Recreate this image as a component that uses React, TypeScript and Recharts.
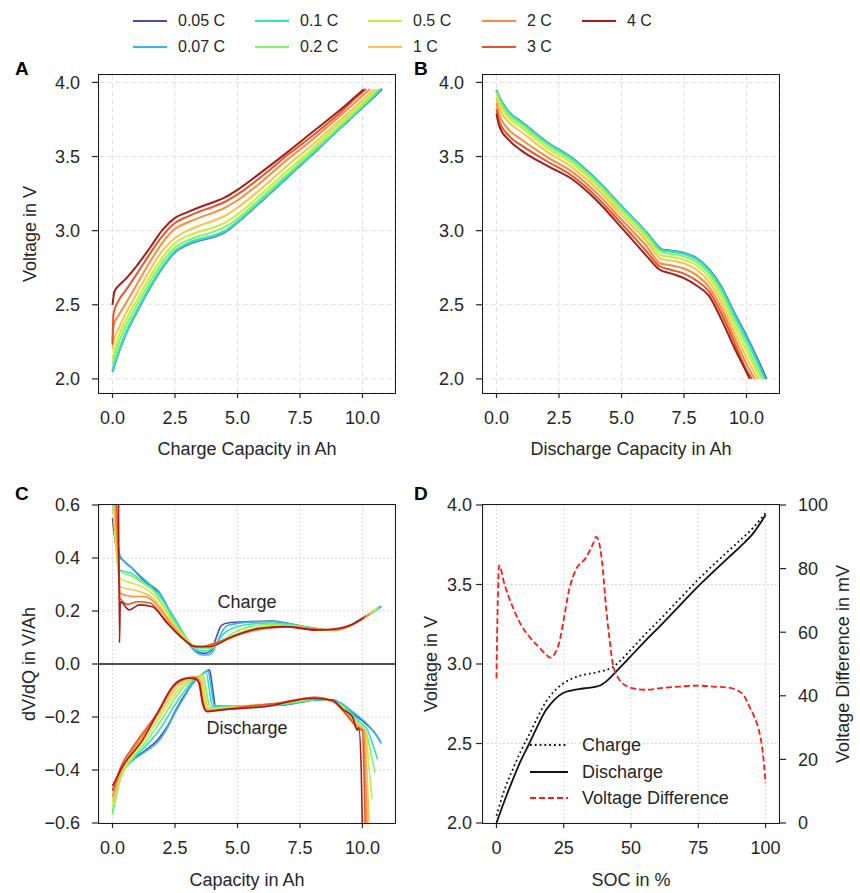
import { CartesianGrid, Line, LineChart, ReferenceLine, XAxis, YAxis } from 'recharts'
import type { ReactNode } from 'react'

type Pt = [number, number]

// C-rates shown in every panel, low to high
const RATES = ['0.05 C', '0.07 C', '0.1 C', '0.2 C', '0.5 C', '1 C', '2 C', '3 C', '4 C']
const RATE_COLORS = ['#4f4aa6', '#38b6ec', '#30e6b4', '#86f26a', '#c6ee3c', '#f8c44a', '#fa8c3c', '#e8552a', '#a51c1c']

const CAP_TICKS = [0, 2.5, 5, 7.5, 10]
const VOLT_TICKS = [2, 2.5, 3, 3.5, 4]
const DVDQ_TICKS = [-0.6, -0.4, -0.2, 0, 0.2, 0.4, 0.6]
const SOC_TICKS = [0, 25, 50, 75, 100]
const DIFF_TICKS = [0, 20, 40, 60, 80, 100]

// A: charge voltage vs charge capacity (Ah, V)
const chgV_005: Pt[] = [[0, 2.05], [0.25, 2.18], [0.5, 2.29], [1, 2.46], [1.5, 2.615], [2, 2.75], [2.5, 2.855], [3, 2.905], [3.5, 2.935], [4, 2.955], [4.5, 2.99], [5, 3.055], [6, 3.205], [7, 3.36], [8, 3.515], [9, 3.675], [10, 3.83], [10.78, 3.955]]
const chgV_007: Pt[] = [[0, 2.052], [0.25, 2.183], [0.5, 2.293], [1, 2.463], [1.5, 2.618], [2, 2.753], [2.5, 2.858], [3, 2.908], [3.5, 2.938], [4, 2.958], [4.5, 2.993], [5, 3.058], [6, 3.208], [7, 3.363], [8, 3.518], [9, 3.677], [10, 3.832], [10.75, 3.955]]
const chgV_01: Pt[] = [[0, 2.06], [0.25, 2.19], [0.5, 2.3], [1, 2.47], [1.5, 2.625], [2, 2.76], [2.5, 2.865], [3, 2.915], [3.5, 2.945], [4, 2.965], [4.5, 3.0], [5, 3.062], [6, 3.212], [7, 3.367], [8, 3.52], [9, 3.68], [10, 3.835], [10.72, 3.955]]
const chgV_02: Pt[] = [[0, 2.1], [0.25, 2.24], [0.5, 2.345], [1, 2.505], [1.5, 2.655], [2, 2.79], [2.5, 2.887], [3, 2.935], [3.5, 2.965], [4, 2.99], [4.5, 3.025], [5, 3.08], [6, 3.23], [7, 3.383], [8, 3.535], [9, 3.69], [10, 3.845], [10.65, 3.955]]
const chgV_05: Pt[] = [[0, 2.14], [0.25, 2.29], [0.5, 2.385], [1, 2.54], [1.5, 2.69], [2, 2.82], [2.5, 2.917], [3, 2.965], [3.5, 2.995], [4, 3.02], [4.5, 3.055], [5, 3.11], [6, 3.255], [7, 3.405], [8, 3.555], [9, 3.71], [10, 3.86], [10.55, 3.955]]
const chgV_1: Pt[] = [[0, 2.2], [0.04, 2.25], [0.25, 2.34], [0.5, 2.43], [1, 2.585], [1.5, 2.735], [2, 2.865], [2.5, 2.95], [3, 3.0], [3.5, 3.035], [4, 3.065], [4.5, 3.1], [5, 3.155], [6, 3.29], [7, 3.44], [8, 3.58], [9, 3.73], [10, 3.88], [10.45, 3.955]]
const chgV_2: Pt[] = [[0, 2.25], [0.04, 2.36], [0.25, 2.43], [0.5, 2.5], [1, 2.645], [1.5, 2.79], [2, 2.92], [2.5, 3.013], [3, 3.055], [3.5, 3.09], [4, 3.12], [4.5, 3.155], [5, 3.205], [6, 3.335], [7, 3.48], [8, 3.615], [9, 3.76], [10, 3.91], [10.3, 3.955]]
const chgV_3: Pt[] = [[0, 2.23], [0.04, 2.44], [0.25, 2.53], [0.5, 2.59], [1, 2.715], [1.5, 2.845], [2, 2.965], [2.5, 3.052], [3, 3.095], [3.5, 3.13], [4, 3.16], [4.5, 3.195], [5, 3.245], [6, 3.37], [7, 3.51], [8, 3.64], [9, 3.78], [10, 3.935], [10.15, 3.955]]
const chgV_4: Pt[] = [[0, 2.5], [0.08, 2.59], [0.25, 2.63], [0.5, 2.67], [1, 2.77], [1.5, 2.885], [2, 3.005], [2.5, 3.086], [3, 3.125], [3.5, 3.16], [4, 3.19], [4.5, 3.225], [5, 3.275], [6, 3.4], [7, 3.53], [8, 3.665], [9, 3.8], [10.05, 3.955]]

// B: discharge voltage vs discharge capacity (Ah, V)
const disV_005: Pt[] = [[0, 3.95], [0.1, 3.905], [0.5, 3.8], [1, 3.735], [2, 3.6], [3, 3.493], [4, 3.345], [5, 3.165], [6, 2.99], [6.65, 2.872], [7, 2.865], [7.5, 2.85], [8, 2.815], [8.5, 2.74], [9, 2.62], [9.5, 2.45], [10, 2.29], [10.4, 2.15], [10.8, 2.0]]
const disV_007: Pt[] = [[0, 3.948], [0.1, 3.903], [0.5, 3.798], [1, 3.733], [2, 3.598], [3, 3.491], [4, 3.343], [5, 3.163], [6, 2.988], [6.64, 2.87], [7, 2.863], [7.5, 2.848], [8, 2.813], [8.5, 2.737], [9, 2.616], [9.5, 2.445], [10, 2.283], [10.4, 2.14], [10.76, 2.0]]
const disV_01: Pt[] = [[0, 3.945], [0.1, 3.9], [0.5, 3.795], [1, 3.73], [2, 3.595], [3, 3.488], [4, 3.34], [5, 3.16], [6, 2.985], [6.63, 2.866], [7, 2.858], [7.5, 2.842], [8, 2.806], [8.5, 2.728], [9, 2.605], [9.5, 2.43], [10, 2.265], [10.4, 2.12], [10.72, 2.0]]
const disV_02: Pt[] = [[0, 3.935], [0.1, 3.885], [0.5, 3.78], [1, 3.715], [2, 3.58], [3, 3.474], [4, 3.327], [5, 3.147], [6, 2.972], [6.62, 2.852], [7, 2.843], [7.5, 2.826], [8, 2.788], [8.5, 2.71], [9, 2.58], [9.5, 2.4], [10, 2.23], [10.4, 2.08], [10.65, 2.0]]
const disV_05: Pt[] = [[0, 3.92], [0.1, 3.865], [0.5, 3.76], [1, 3.695], [2, 3.56], [3, 3.455], [4, 3.308], [5, 3.128], [6, 2.953], [6.6, 2.832], [7, 2.823], [7.5, 2.805], [8, 2.765], [8.5, 2.685], [9, 2.55], [9.5, 2.365], [10, 2.19], [10.4, 2.052], [10.55, 2.0]]
const disV_1: Pt[] = [[0, 3.895], [0.1, 3.835], [0.5, 3.73], [1, 3.665], [2, 3.535], [3, 3.43], [4, 3.285], [5, 3.105], [6, 2.93], [6.58, 2.81], [7, 2.798], [7.5, 2.78], [8, 2.738], [8.5, 2.655], [9, 2.515], [9.5, 2.325], [10, 2.145], [10.45, 2.0]]
const disV_2: Pt[] = [[0, 3.86], [0.1, 3.79], [0.5, 3.68], [1, 3.615], [2, 3.5], [3, 3.4], [4, 3.255], [5, 3.075], [6, 2.895], [6.55, 2.78], [7, 2.765], [7.5, 2.745], [8, 2.7], [8.5, 2.62], [9, 2.475], [9.5, 2.285], [10, 2.1], [10.33, 2.0]]
const disV_3: Pt[] = [[0, 3.82], [0.1, 3.745], [0.5, 3.64], [1, 3.575], [2, 3.47], [3, 3.372], [4, 3.228], [5, 3.047], [6, 2.86], [6.52, 2.76], [7, 2.735], [7.5, 2.71], [8, 2.663], [8.5, 2.59], [9, 2.44], [9.5, 2.25], [10, 2.06], [10.22, 2.0]]
const disV_4: Pt[] = [[0, 3.79], [0.1, 3.71], [0.5, 3.61], [1, 3.54], [2, 3.44], [3, 3.35], [4, 3.205], [5, 3.02], [6, 2.83], [6.5, 2.74], [7, 2.71], [7.5, 2.68], [8, 2.63], [8.5, 2.56], [9, 2.4], [9.5, 2.215], [10, 2.045], [10.13, 2.0]]

// C: differential voltage dV/dQ during charge (Ah, V/Ah)
const chgD_005: Pt[] = [[0, 0.55], [0.1, 0.47], [0.25, 0.41], [0.5, 0.385], [0.8, 0.36], [1.2, 0.32], [1.6, 0.29], [1.9, 0.265], [2.2, 0.215], [2.5, 0.16], [2.8, 0.115], [3.1, 0.07], [3.4, 0.045], [3.7, 0.04], [3.95, 0.05], [4.15, 0.1], [4.35, 0.145], [4.6, 0.155], [5.5, 0.16], [6.4, 0.162], [7.2, 0.15], [8, 0.135], [8.8, 0.128], [9.4, 0.14], [10, 0.17], [10.4, 0.195], [10.75, 0.218]]
const chgD_007: Pt[] = [[0, 0.64], [0.15, 0.5], [0.3, 0.41], [0.6, 0.375], [0.8, 0.36], [1.2, 0.325], [1.5, 0.3], [1.86, 0.273], [2.1, 0.23], [2.4, 0.185], [2.8, 0.122], [3.19, 0.06], [3.4, 0.04], [3.6, 0.034], [3.85, 0.035], [4.0, 0.045], [4.2, 0.085], [4.4, 0.125], [4.6, 0.145], [5.46, 0.158], [6.4, 0.16], [7.2, 0.15], [7.72, 0.141], [8.79, 0.128], [9.4, 0.14], [9.72, 0.158], [10.2, 0.185], [10.72, 0.218]]
const chgD_01: Pt[] = [[0, 0.62], [0.15, 0.45], [0.3, 0.355], [0.8, 0.34], [1.2, 0.31], [1.6, 0.285], [2.0, 0.24], [2.4, 0.18], [2.8, 0.12], [3.2, 0.07], [3.5, 0.05], [3.8, 0.05], [4.1, 0.07], [4.4, 0.11], [4.8, 0.135], [5.5, 0.15], [6.4, 0.155], [7.2, 0.148], [8, 0.135], [8.8, 0.128], [9.4, 0.14], [10, 0.17], [10.7, 0.215]]
const chgD_02: Pt[] = [[0, 0.64], [0.15, 0.45], [0.3, 0.35], [0.8, 0.33], [1.2, 0.305], [1.6, 0.28], [2.0, 0.225], [2.4, 0.17], [2.8, 0.115], [3.2, 0.07], [3.5, 0.06], [3.9, 0.06], [4.3, 0.08], [4.8, 0.115], [5.5, 0.14], [6.4, 0.15], [7.2, 0.145], [8, 0.135], [8.8, 0.128], [9.4, 0.14], [10, 0.17], [10.62, 0.212]]
const chgD_05: Pt[] = [[0, 0.64], [0.15, 0.42], [0.3, 0.323], [0.8, 0.305], [1.2, 0.29], [1.6, 0.265], [2.0, 0.22], [2.4, 0.16], [2.8, 0.11], [3.2, 0.072], [3.6, 0.065], [4.0, 0.07], [4.5, 0.09], [5.0, 0.115], [5.7, 0.135], [6.5, 0.145], [7.3, 0.142], [8, 0.135], [8.8, 0.128], [9.4, 0.14], [10, 0.17], [10.55, 0.208]]
const chgD_1: Pt[] = [[0.02, 0.64], [0.2, 0.4], [0.3, 0.292], [0.8, 0.28], [1.2, 0.27], [1.6, 0.25], [2.0, 0.205], [2.4, 0.15], [2.8, 0.105], [3.2, 0.072], [3.6, 0.066], [4.0, 0.072], [4.6, 0.092], [5.2, 0.115], [5.9, 0.132], [6.7, 0.142], [7.4, 0.14], [8, 0.134], [8.8, 0.128], [9.4, 0.14], [10, 0.17], [10.45, 0.202]]
const chgD_2: Pt[] = [[0.1, 0.64], [0.22, 0.4], [0.3, 0.267], [0.8, 0.255], [1.2, 0.255], [1.6, 0.24], [2.0, 0.195], [2.4, 0.145], [2.8, 0.1], [3.2, 0.07], [3.6, 0.066], [4.0, 0.075], [4.7, 0.1], [5.4, 0.12], [6.1, 0.133], [6.9, 0.14], [7.6, 0.138], [8.2, 0.131], [8.8, 0.128], [9.4, 0.14], [10, 0.17], [10.3, 0.19]]
const chgD_3: Pt[] = [[0.15, 0.64], [0.25, 0.4], [0.3, 0.248], [0.6, 0.225], [1.0, 0.235], [1.5, 0.23], [2.0, 0.18], [2.4, 0.135], [2.8, 0.097], [3.2, 0.068], [3.6, 0.066], [4.0, 0.075], [4.7, 0.1], [5.5, 0.125], [6.3, 0.137], [7.0, 0.14], [7.7, 0.135], [8.3, 0.13], [8.9, 0.13], [9.5, 0.145], [10.15, 0.182]]
const chgD_4: Pt[] = [[0.24, 0.64], [0.28, 0.08], [0.31, 0.235], [0.67, 0.204], [1.07, 0.223], [1.6, 0.216], [2.13, 0.16], [2.8, 0.097], [3.33, 0.065], [3.86, 0.065], [4.79, 0.103], [5.86, 0.135], [6.92, 0.141], [8.12, 0.128], [9.05, 0.135], [9.6, 0.15], [10.05, 0.175]]

// C: differential voltage dV/dQ during discharge (Ah, V/Ah)
const disD_005: Pt[] = [[0, -0.475], [0.3, -0.415], [0.8, -0.362], [1.33, -0.325], [1.86, -0.28], [2.2, -0.235], [2.53, -0.174], [2.9, -0.115], [3.2, -0.073], [3.5, -0.045], [3.75, -0.028], [3.88, -0.022], [4.0, -0.09], [4.13, -0.161], [5.46, -0.161], [6.79, -0.155], [7.5, -0.145], [8.12, -0.136], [8.79, -0.136], [9.2, -0.152], [9.6, -0.185], [10.12, -0.224], [10.45, -0.255], [10.72, -0.293]]
const disD_007: Pt[] = [[0, -0.5], [0.3, -0.42], [0.8, -0.365], [1.33, -0.33], [1.86, -0.29], [2.2, -0.24], [2.53, -0.18], [2.9, -0.12], [3.2, -0.075], [3.5, -0.045], [3.7, -0.03], [3.82, -0.025], [3.95, -0.09], [4.08, -0.158], [5.46, -0.16], [6.79, -0.153], [7.5, -0.144], [8.12, -0.136], [8.79, -0.136], [9.2, -0.152], [9.6, -0.18], [10.12, -0.22], [10.45, -0.255], [10.76, -0.3]]
const disD_01: Pt[] = [[0, -0.56], [0.3, -0.43], [0.8, -0.36], [1.33, -0.31], [1.86, -0.25], [2.2, -0.2], [2.53, -0.15], [2.9, -0.1], [3.2, -0.065], [3.5, -0.045], [3.65, -0.035], [3.75, -0.032], [3.88, -0.1], [4.0, -0.16], [5.46, -0.16], [6.79, -0.153], [7.5, -0.143], [8.12, -0.135], [8.79, -0.137], [9.2, -0.155], [9.6, -0.19], [9.9, -0.22], [10.2, -0.25], [10.4, -0.3], [10.6, -0.36]]
const disD_02: Pt[] = [[0, -0.57], [0.3, -0.44], [0.8, -0.355], [1.33, -0.295], [1.86, -0.225], [2.2, -0.175], [2.53, -0.125], [2.9, -0.08], [3.2, -0.058], [3.5, -0.043], [3.62, -0.04], [3.75, -0.1], [3.9, -0.165], [5.46, -0.158], [6.79, -0.15], [7.5, -0.14], [8.12, -0.133], [8.79, -0.14], [9.2, -0.16], [9.6, -0.2], [9.9, -0.23], [10.15, -0.26], [10.3, -0.32], [10.5, -0.41]]
const disD_05: Pt[] = [[0, -0.54], [0.3, -0.43], [0.8, -0.345], [1.33, -0.28], [1.86, -0.205], [2.2, -0.155], [2.53, -0.11], [2.9, -0.07], [3.2, -0.055], [3.45, -0.045], [3.57, -0.045], [3.7, -0.11], [3.85, -0.17], [5.46, -0.157], [6.79, -0.148], [7.5, -0.137], [8.12, -0.13], [8.79, -0.14], [9.2, -0.165], [9.6, -0.205], [9.9, -0.235], [10.15, -0.27], [10.25, -0.38], [10.38, -0.51]]
const disD_1: Pt[] = [[0, -0.52], [0.3, -0.42], [0.8, -0.335], [1.33, -0.265], [1.86, -0.19], [2.2, -0.14], [2.53, -0.095], [2.9, -0.063], [3.2, -0.052], [3.4, -0.048], [3.52, -0.05], [3.65, -0.12], [3.8, -0.172], [5.46, -0.157], [6.79, -0.146], [7.5, -0.134], [8.12, -0.128], [8.79, -0.14], [9.2, -0.168], [9.6, -0.21], [9.9, -0.235], [10.1, -0.25], [10.2, -0.45], [10.28, -0.65]]
const disD_2: Pt[] = [[0, -0.5], [0.3, -0.41], [0.8, -0.325], [1.33, -0.255], [1.86, -0.18], [2.2, -0.125], [2.53, -0.08], [2.9, -0.057], [3.2, -0.05], [3.35, -0.05], [3.48, -0.06], [3.6, -0.13], [3.75, -0.175], [5.46, -0.158], [6.79, -0.145], [7.5, -0.132], [8.12, -0.127], [8.79, -0.14], [9.2, -0.17], [9.6, -0.215], [9.85, -0.24], [10.05, -0.25], [10.13, -0.45], [10.2, -0.65]]
const disD_3: Pt[] = [[0, -0.48], [0.3, -0.395], [0.8, -0.315], [1.33, -0.245], [1.86, -0.175], [2.2, -0.115], [2.53, -0.072], [2.9, -0.054], [3.2, -0.05], [3.35, -0.055], [3.45, -0.07], [3.6, -0.15], [3.75, -0.178], [5.46, -0.16], [6.79, -0.145], [7.5, -0.132], [8.12, -0.126], [8.79, -0.14], [9.2, -0.175], [9.6, -0.22], [9.8, -0.245], [10.0, -0.25], [10.07, -0.45], [10.12, -0.65]]
const disD_4: Pt[] = [[0, -0.46], [0.4, -0.387], [1.2, -0.287], [1.86, -0.174], [2.4, -0.086], [2.8, -0.058], [3.06, -0.054], [3.3, -0.056], [3.46, -0.07], [3.62, -0.15], [3.79, -0.18], [4.26, -0.174], [6.1, -0.161], [7.99, -0.13], [8.79, -0.136], [9.2, -0.17], [9.6, -0.199], [9.79, -0.25], [9.85, -0.24], [9.95, -0.4], [10.0, -0.65]]

// D: 0.05 C curves vs SOC (%, V) and their gap (%, mV)
const socCharge: Pt[] = [[0, 2.045], [3, 2.21], [6, 2.335], [9, 2.45], [12.2, 2.557], [15, 2.655], [18.4, 2.763], [21.5, 2.83], [24.6, 2.875], [27.7, 2.905], [30.8, 2.925], [34, 2.937], [37, 2.947], [38.5, 2.953], [40.7, 2.962], [43.2, 2.98], [46.3, 3.025], [49.4, 3.08], [55.6, 3.192], [61.8, 3.298], [68, 3.408], [74.2, 3.518], [80.4, 3.62], [86.6, 3.717], [91, 3.785], [95.3, 3.855], [100, 3.95]]
const socDischarge: Pt[] = [[0, 2.0], [3, 2.14], [6, 2.27], [9, 2.39], [12.2, 2.5], [15, 2.6], [18.4, 2.71], [21.5, 2.775], [24.6, 2.816], [27.7, 2.833], [30.8, 2.843], [34, 2.85], [37, 2.857], [38.5, 2.865], [40.7, 2.889], [43.2, 2.93], [46.3, 2.985], [49.4, 3.04], [55.6, 3.15], [61.8, 3.256], [68, 3.366], [74.2, 3.476], [80.4, 3.577], [86.6, 3.675], [91, 3.745], [95.3, 3.82], [100, 3.937]]
const socDiff: Pt[] = [[0, 45.5], [1, 81], [3, 75], [6, 68], [9, 62.5], [12.2, 58.6], [15, 56], [18.4, 53], [20, 52], [21.5, 53], [23.4, 57], [25, 64], [27, 73.3], [29.5, 79.6], [33.3, 83.5], [36, 88], [37, 90], [38.2, 88], [39.5, 80], [40.7, 68], [42, 58], [43.2, 50.2], [45.7, 45], [48, 43.2], [50.6, 42.4], [55.6, 41.9], [62, 42.5], [68, 42.9], [75, 43.2], [80.4, 42.9], [86, 42.6], [89.2, 41.8], [92, 40], [94, 36.6], [96, 33], [97.8, 28.2], [99, 22], [100, 12.5]]

const chargeVoltage = [chgV_005, chgV_007, chgV_01, chgV_02, chgV_05, chgV_1, chgV_2, chgV_3, chgV_4]
const dischargeVoltage = [disV_005, disV_007, disV_01, disV_02, disV_05, disV_1, disV_2, disV_3, disV_4]
const chargeDvdq = [chgD_005, chgD_007, chgD_01, chgD_02, chgD_05, chgD_1, chgD_2, chgD_3, chgD_4]
const dischargeDvdq = [disD_005, disD_007, disD_01, disD_02, disD_05, disD_1, disD_2, disD_3, disD_4]

const FONT = '"Liberation Sans", Arial, Helvetica, sans-serif'
const INK = '#262626'
const FS = 18

const tick = { fill: INK, fontSize: FS, fontFamily: FONT }
const tickLine = { stroke: INK, strokeWidth: 1.2 }
const xAxisStyle = { tick, tickLine, axisLine: false, tickSize: 5, tickMargin: 13 }
const yAxisStyle = { tick, tickLine, axisLine: false, tickSize: 7, tickMargin: 12 }
// panel D keeps its left labels closer to the axis
const yAxisTight = { ...yAxisStyle, tick: { ...tick, dx: 8 } }

const toXY = (pts: Pt[]) => pts.map(([x, y]) => ({ x, y }))
const oneDec = (v: number) => v.toFixed(1).replace('-', '\u2212')
const whole = (v: number) => String(Math.round(v))

function rateLines(curves: Pt[][], width: number, prefix: string) {
  return curves.map((c, i) => (
    <Line
      key={prefix + RATES[i]}
      data={toXY(c)}
      dataKey="y"
      type="monotone"
      stroke={RATE_COLORS[i]}
      strokeWidth={width}
      dot={false}
      activeDot={false}
      isAnimationActive={false}
    />
  ))
}

function Txt({ x, y, children, size = FS, bold = false, rotate = false, anchor = 'middle' }: {
  x: number; y: number; children: ReactNode; size?: number; bold?: boolean; rotate?: boolean; anchor?: 'start' | 'middle'
}) {
  const tx = anchor === 'middle' ? '-50%' : '0'
  return (
    <div
      style={{
        position: 'absolute', left: x, top: y, whiteSpace: 'nowrap', lineHeight: 1,
        fontSize: size, fontWeight: bold ? 700 : 400, color: bold ? '#000' : INK,
        transform: `translate(${tx}, -50%)${rotate ? ' rotate(-90deg)' : ''}`,
      }}
    >
      {children}
    </div>
  )
}

// axes box drawn over the plot area
function Frame({ x, y, w, h }: { x: number; y: number; w: number; h: number }) {
  return (
    <div
      style={{
        position: 'absolute', left: x - 0.75, top: y - 0.75, width: w + 1.5, height: h + 1.5,
        border: '1.5px solid #1a1a1a', boxSizing: 'border-box', pointerEvents: 'none',
      }}
    />
  )
}

function Panel({ left, top, children }: { left: number; top: number; children: ReactNode }) {
  return <div style={{ position: 'absolute', left, top }}>{children}</div>
}

const LEGEND_COLS = [133, 255, 368, 482, 582]

function RateLegend() {
  return (
    <>
      {RATES.map((r, i) => {
        const x = LEGEND_COLS[Math.floor(i / 2)]
        const y = i % 2 === 0 ? 21 : 47
        return (
          <div key={r}>
            <div style={{ position: 'absolute', left: x, top: y - 1, width: 34, height: 2, background: RATE_COLORS[i] }} />
            <Txt x={x + 45} y={y} size={16} anchor="start">{r}</Txt>
          </div>
        )
      })}
    </>
  )
}

function SocLegend() {
  const rows = [
    { label: 'Charge', dash: '1.8 3', color: '#111' },
    { label: 'Discharge', dash: undefined, color: '#111' },
    { label: 'Voltage Difference', dash: '6 3', color: '#ff1a1a' },
  ]
  return (
    <>
      {rows.map((r, i) => {
        const y = 745 + i * 26.5
        return (
          <div key={r.label}>
            <svg style={{ position: 'absolute', left: 530, top: y - 3 }} width={38} height={6}>
              <line x1={0} x2={38} y1={3} y2={3} stroke={r.color} strokeWidth={1.8} strokeDasharray={r.dash} />
            </svg>
            <Txt x={582} y={y} anchor="start">{r.label}</Txt>
          </div>
        )
      })}
    </>
  )
}

export default function App() {
  return (
    <div style={{ position: 'absolute', left: 0, top: 0, width: 860, height: 893, background: '#fff', fontFamily: FONT }}>
      <RateLegend />

      {/* A: charge curves */}
      <Panel left={0} top={0}>
        <LineChart width={420} height={440} margin={{ top: 75, right: 25, bottom: 17, left: 39 }}>
          <CartesianGrid stroke="#e2e2e2" strokeDasharray="5 3" />
          <XAxis type="number" dataKey="x" domain={[-0.54, 11.3]} ticks={CAP_TICKS} tickFormatter={oneDec} allowDataOverflow height={30} {...xAxisStyle} />
          <YAxis type="number" domain={[1.905, 4.05]} ticks={VOLT_TICKS} tickFormatter={oneDec} allowDataOverflow width={60} {...yAxisStyle} />
          {rateLines(chargeVoltage, 2, 'a')}
        </LineChart>
      </Panel>
      <Frame x={99} y={75} w={296} h={318} />
      <Txt x={15} y={68} size={19} bold anchor="start">A</Txt>
      <Txt x={30} y={234} rotate>Voltage in V</Txt>
      <Txt x={247} y={449}>Charge Capacity in Ah</Txt>

      {/* B: discharge curves */}
      <Panel left={400} top={0}>
        <LineChart width={400} height={440} margin={{ top: 75, right: 21, bottom: 17, left: 23 }}>
          <CartesianGrid stroke="#e2e2e2" strokeDasharray="5 3" />
          <XAxis type="number" dataKey="x" domain={[-0.54, 11.3]} ticks={CAP_TICKS} tickFormatter={oneDec} allowDataOverflow height={30} {...xAxisStyle} />
          <YAxis type="number" domain={[1.905, 4.05]} ticks={VOLT_TICKS} tickFormatter={oneDec} allowDataOverflow width={60} {...yAxisStyle} />
          {rateLines(dischargeVoltage, 2, 'b')}
        </LineChart>
      </Panel>
      <Frame x={483} y={75} w={296} h={318} />
      <Txt x={414} y={68} size={19} bold anchor="start">B</Txt>
      <Txt x={631} y={449}>Discharge Capacity in Ah</Txt>

      {/* C: differential voltage */}
      <Panel left={0} top={430}>
        <LineChart width={420} height={440} margin={{ top: 75, right: 25, bottom: 17, left: 39 }}>
          <CartesianGrid stroke="#cfcfcf" strokeDasharray="1.5 2.5" />
          <XAxis type="number" dataKey="x" domain={[-0.54, 11.3]} ticks={CAP_TICKS} tickFormatter={oneDec} allowDataOverflow height={30} {...xAxisStyle} />
          <YAxis type="number" domain={[-0.6, 0.6]} ticks={DVDQ_TICKS} tickFormatter={oneDec} allowDataOverflow width={60} {...yAxisStyle} />
          {rateLines(chargeDvdq, 1.6, 'c')}
          {rateLines(dischargeDvdq, 1.6, 'd')}
          <ReferenceLine y={0} stroke="#1a1a1a" strokeWidth={1.5} />
        </LineChart>
      </Panel>
      <Frame x={99} y={505} w={296} h={318} />
      <Txt x={15} y={493} size={19} bold anchor="start">C</Txt>
      <Txt x={29} y={664} rotate>dV/dQ in V/Ah</Txt>
      <Txt x={247} y={880}>Capacity in Ah</Txt>
      <Txt x={247} y={602}>Charge</Txt>
      <Txt x={247} y={728}>Discharge</Txt>

      {/* D: charge vs discharge at 0.05 C over SOC */}
      <Panel left={400} top={430}>
        <LineChart width={460} height={440} margin={{ top: 75, right: 31, bottom: 17, left: 23 }}>
          <CartesianGrid yAxisId="v" stroke="#cfcfcf" strokeDasharray="1.5 2.5" />
          <XAxis type="number" dataKey="x" domain={[-5, 105]} ticks={SOC_TICKS} tickFormatter={whole} allowDataOverflow height={30} {...xAxisStyle} />
          <YAxis yAxisId="v" type="number" domain={[2, 4]} ticks={VOLT_TICKS} tickFormatter={oneDec} allowDataOverflow width={60} {...yAxisTight} />
          <YAxis yAxisId="mv" orientation="right" type="number" domain={[0, 100]} ticks={DIFF_TICKS} tickFormatter={whole} allowDataOverflow width={50} {...yAxisStyle} />
          <Line yAxisId="v" data={toXY(socCharge)} dataKey="y" type="monotone" stroke="#111" strokeWidth={1.8} strokeDasharray="1.8 3" dot={false} activeDot={false} isAnimationActive={false} />
          <Line yAxisId="v" data={toXY(socDischarge)} dataKey="y" type="monotone" stroke="#111" strokeWidth={1.8} dot={false} activeDot={false} isAnimationActive={false} />
          <Line yAxisId="mv" data={toXY(socDiff)} dataKey="y" type="monotone" stroke="#ff1a1a" strokeWidth={1.8} strokeDasharray="6 3" dot={false} activeDot={false} isAnimationActive={false} />
        </LineChart>
      </Panel>
      <Frame x={483} y={505} w={296} h={318} />
      <SocLegend />
      <Txt x={414} y={493} size={19} bold anchor="start">D</Txt>
      <Txt x={431} y={664} rotate>Voltage in V</Txt>
      <Txt x={843} y={664} rotate>Voltage Difference in mV</Txt>
      <Txt x={631} y={880}>SOC in %</Txt>
    </div>
  )
}
